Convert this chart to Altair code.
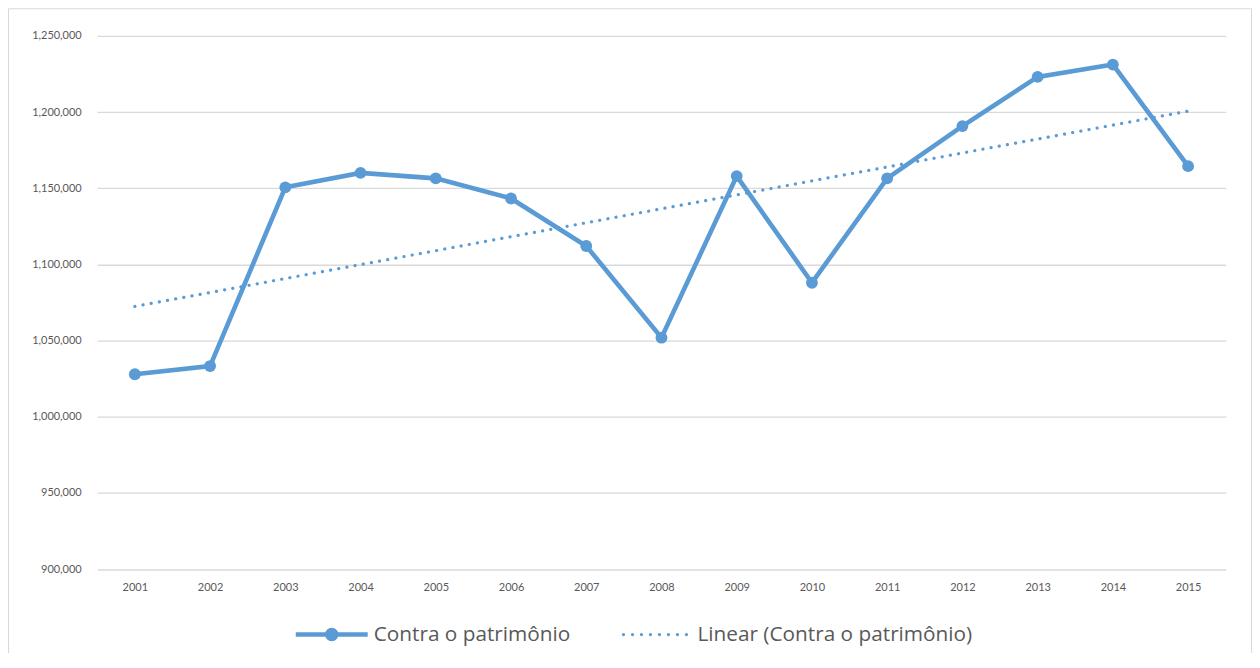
import altair as alt
import pandas as pd

# ---- data ----
years = [2001, 2002, 2003, 2004, 2005, 2006, 2007, 2008, 2009, 2010, 2011, 2012, 2013, 2014, 2015]
values = [1027900, 1033300, 1150600, 1160100, 1156500, 1143300, 1112100, 1051900,
          1158000, 1088000, 1156500, 1190800, 1223100, 1231200, 1164500]
series_names = ["Contra o patrimônio", "Linear (Contra o patrimônio)"]
y_ticks = [900000, 950000, 1000000, 1050000, 1100000, 1150000, 1200000, 1250000]

df = pd.DataFrame({"year": years, "value": values, "series": series_names[0]})

BLUE = "#5b9bd5"
GRID = "#d9d9d9"
TEXT = "#595959"
FONT = "Lato"

W, H = 1129.4, 533.6
PAD = {"left": 89.3, "top": 27.7, "right": 26.3, "bottom": 84}

# legend symbols (unit coordinates, scaled by the legend symbol size)
r_dot = 0.045
dot_path = " ".join(
    f"M{x - r_dot:.3f},0A{r_dot},{r_dot},0,1,1,{x + r_dot:.3f},0A{r_dot},{r_dot},0,1,1,{x - r_dot:.3f},0Z"
    for x in [-0.889, -0.639, -0.389, -0.139, 0.111, 0.361, 0.611, 0.861]
)
line_path = ("M-1,-0.0625L1,-0.0625L1,0.0625L-1,0.0625Z "
             "M-0.186,0A0.186,0.186,0,1,1,0.186,0A0.186,0.186,0,1,1,-0.186,0Z")

xscale = alt.Scale(domain=[2000.5, 2015.5], nice=False, zero=False)
yscale = alt.Scale(domain=[900000, 1250000], nice=False, zero=False)

x_enc = alt.X("year:Q", scale=xscale,
              axis=alt.Axis(values=years, format="d", title=None, grid=False,
                            domain=False, ticks=False, labelPadding=12))
y_enc = alt.Y("value:Q", scale=yscale,
              axis=alt.Axis(values=y_ticks, format=",d", title=None, grid=True,
                            domain=False, ticks=False, labelPadding=16))

border = alt.Chart(alt.Data(values=[{}])).mark_rect(
    fill="transparent", stroke=GRID, strokeWidth=1
).encode(
    x=alt.value(-88.8), x2=alt.value(W + PAD["right"] - 0.5),
    y=alt.value(-27.2), y2=alt.value(H + 200)
)

line = alt.Chart(df).mark_line(color=BLUE, strokeWidth=4.6).encode(x=x_enc, y=y_enc)
points = alt.Chart(df).mark_point(filled=True, color=BLUE, opacity=1, size=140).encode(
    x="year:Q", y="value:Q")
trend = alt.Chart(df).transform_regression(
    "year", "value", method="linear", extent=[2001, 2015]
).mark_line(color=BLUE, strokeWidth=3.2, strokeDash=[0.1, 8.2], strokeCap="round").encode(
    x="year:Q", y="value:Q")

legend_layer = alt.Chart(df).transform_filter("false").mark_point(
    filled=True, color=BLUE, opacity=1, size=5184
).encode(
    shape=alt.Shape("series:N",
                    scale=alt.Scale(domain=series_names, range=[line_path, dot_path]),
                    legend=alt.Legend(title=None, orient="none", direction="horizontal",
                                      legendX=198.7, legendY=563,
                                      symbolSize=5184, symbolFillColor=BLUE,
                                      symbolStrokeWidth=0, symbolOpacity=1,
                                      labelFont="Open Sans", labelFontSize=20.8, labelColor=TEXT,
                                      labelOffset=6, columnPadding=49, labelLimit=500,
                                      padding=0))
)

chart = alt.layer(border, line, points, trend, legend_layer).properties(
    width=W, height=H,
    autosize=alt.AutoSizeParams(type="none"),
    padding=PAD,
    background="white",
).configure_view(stroke=None).configure_axis(
    labelFont=FONT, labelFontSize=11, labelColor=TEXT,
    gridColor=GRID, gridWidth=1.3
)

chart.save("out.html", embed_options={"renderer": "svg", "actions": False})
